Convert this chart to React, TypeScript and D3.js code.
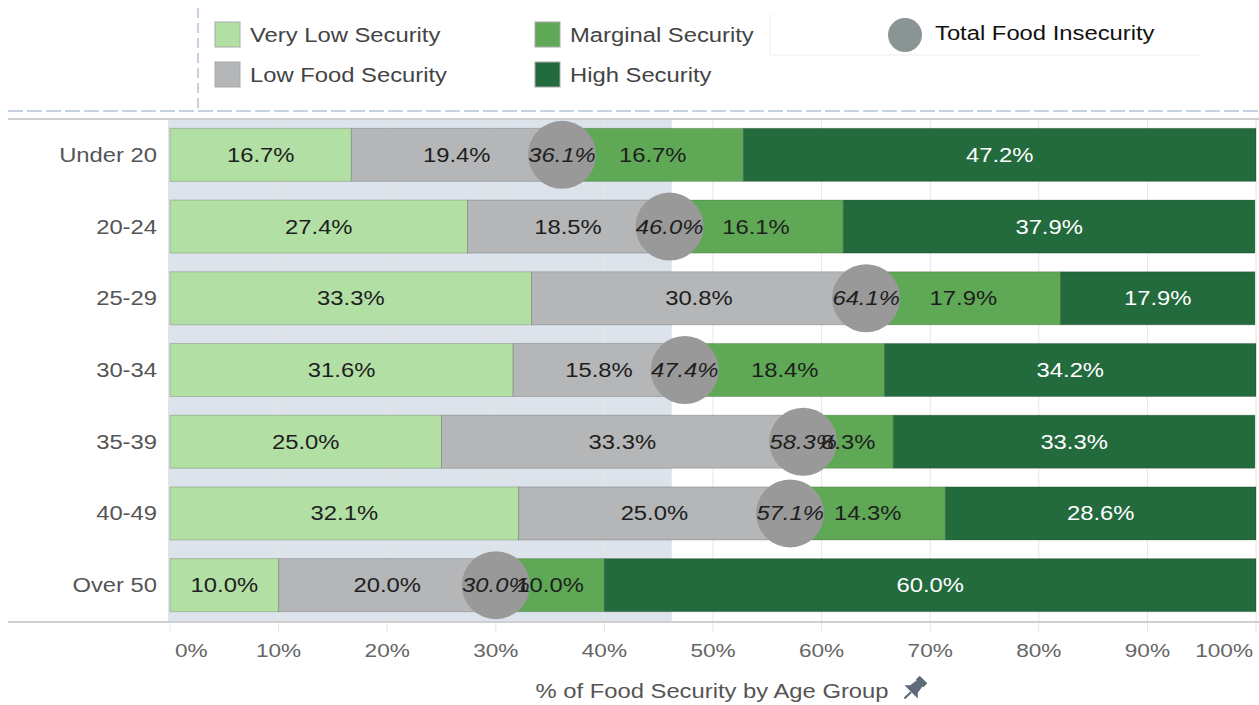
import React from "react";
import * as d3 from "d3";

const categories = ["Under 20", "20-24", "25-29", "30-34", "35-39", "40-49", "Over 50"];
const veryLow = [16.7, 27.4, 33.3, 31.6, 25.0, 32.1, 10.0];
const lowFood = [19.4, 18.5, 30.8, 15.8, 33.3, 25.0, 20.0];
const marginal = [16.7, 16.1, 17.9, 18.4, 8.3, 14.3, 10.0];
const high = [47.2, 37.9, 17.9, 34.2, 33.3, 28.6, 60.0];
const totalInsecurity = [36.1, 46.0, 64.1, 47.4, 58.3, 57.1, 30.0];
const seriesNames = ["Very Low Security", "Low Food Security", "Marginal Security", "High Security"];
const tickValues = [0, 10, 20, 30, 40, 50, 60, 70, 80, 90, 100];
const referenceBand = 46.2;

const COLORS = ["#b2dfa4", "#b4b6b7", "#5fa956", "#236a3d"];
const TEXT_COLORS = ["#1e1e1e", "#1e1e1e", "#1e1e1e", "#ffffff"];
const FONT = "'Liberation Sans', Arial, sans-serif";
const SX = 1.19;

type TProps = {
  x: number; y: number; anchor?: "start" | "middle" | "end"; size?: number; fill?: string;
  italic?: boolean; children: React.ReactNode; dy?: string;
};
function T({ x, y, anchor = "start", size = 20, fill = "#444", italic = false, children, dy }: TProps) {
  return (
    <text transform={`translate(${x},${y}) scale(${SX},1)`} textAnchor={anchor} fontSize={size} fill={fill}
      fontStyle={italic ? "italic" : "normal"} dy={dy}>{children}</text>
  );
}

export default function App() {
  const W = 1259, H = 705;
  const x = d3.scaleLinear().domain([0, 100]).range([170, 1256]);
  const y = d3.scaleBand<string>().domain(categories).range([119, 621]).paddingInner(0.26).paddingOuter(0.13);
  const series = [veryLow, lowFood, marginal, high];

  const rows = categories.map((c, i) => {
    let acc = 0;
    const segs = series.map((s, k) => {
      const x0 = acc;
      acc += s[i];
      return { k, x0, x1: acc, v: s[i] };
    });
    return { c, i, segs };
  });

  const bw = y.bandwidth();
  const cy = (c: string) => (y(c) ?? 0) + bw / 2;

  return (
    <svg width={W} height={H} style={{ position: "absolute", left: 0, top: 0, display: "block", background: "#fff" }} fontFamily={FONT}>
      {/* legend */}
      <line x1={198} x2={198} y1={8} y2={110} stroke="#c6d1e2" strokeWidth={2} strokeDasharray="10,5" />
      <line x1={8} x2={1259} y1={111} y2={111} stroke="#c6d1e2" strokeWidth={2} strokeDasharray="15,4" />
      <line x1={770} x2={770} y1={14} y2={55} stroke="#eeeeee" />
      <line x1={770} x2={1200} y1={55} y2={55} stroke="#eeeeee" />
      {seriesNames.map((name, k) => {
        const col = k === 0 || k === 1 ? 0 : 1;
        const row = k === 0 || k === 2 ? 0 : 1;
        const lx = col === 0 ? 215 : 535;
        const ly = row === 0 ? 22 : 62;
        return (
          <g key={name}>
            <rect x={lx} y={ly} width={25} height={25} fill={COLORS[k]} stroke="#a9a9a9" strokeWidth={1} />
            <T x={lx + 35} y={ly + 20} fill="#444">{name}</T>
          </g>
        );
      })}
      <circle cx={905} cy={35} r={17} fill="#8b9494" />
      <T x={935} y={40} fill="#111">Total Food Insecurity</T>

      {/* plot frame */}
      <rect x={168} y={119} width={x(referenceBand) - 168} height={502} fill="#dce3eb" />
      {tickValues.map((t) => (
        <line key={"g" + t} x1={x(t)} x2={x(t)} y1={119} y2={632} stroke="#e6e6e6" strokeWidth={1} />
      ))}
      <line x1={8} x2={1259} y1={119} y2={119} stroke="#d0d0d0" strokeWidth={2} />
      <line x1={8} x2={1259} y1={622} y2={622} stroke="#d0d0d0" strokeWidth={2} />

      {/* bars */}
      {rows.map((r) => (
        <g key={r.c}>
          <T x={157} y={cy(r.c)} dy="0.35em" anchor="end" fill="#555">{r.c}</T>
          {r.segs.map((s) => (
            <rect key={s.k} x={x(s.x0)} y={y(r.c)} width={Math.max(0, x(s.x1) - x(s.x0))} height={bw}
              fill={COLORS[s.k]} stroke="rgba(0,0,0,0.18)" strokeWidth={1} />
          ))}
        </g>
      ))}
      {/* circles */}
      {rows.map((r) => (
        <circle key={"c" + r.c} cx={x(totalInsecurity[r.i])} cy={cy(r.c)} r={34} fill="#999999" />
      ))}
      {/* segment labels */}
      {rows.map((r) => (
        <g key={"l" + r.c}>
          {r.segs.map((s) => (
            <T key={s.k} x={(x(s.x0) + x(s.x1)) / 2} y={cy(r.c)} dy="0.35em" anchor="middle"
              fill={TEXT_COLORS[s.k]}>{s.v.toFixed(1) + "%"}</T>
          ))}
          <T x={x(totalInsecurity[r.i])} y={cy(r.c)} dy="0.35em" anchor="middle" italic fill="#1e1e1e">
            {totalInsecurity[r.i].toFixed(1) + "%"}
          </T>
        </g>
      ))}

      {/* axis */}
      {tickValues.map((t, i) => {
        const anchor = i === 0 ? "start" : i === tickValues.length - 1 ? "end" : "middle";
        const tx = i === 0 ? x(t) + 5 : i === tickValues.length - 1 ? x(t) - 3 : x(t);
        return (
          <T key={"t" + t} x={tx} y={657} anchor={anchor} size={19} fill="#666">{t + "%"}</T>
        );
      })}
      <T x={712} y={698} anchor="middle" fill="#555">% of Food Security by Age Group</T>
      <g transform="translate(913,690) rotate(45) scale(1.35)" fill="#5f6b78">
        <rect x={-4} y={-11} width={8} height={4} />
        <path d="M-3,-8 L3,-8 L4,-1 L7,2 L-7,2 L-4,-1 Z" />
        <rect x={-0.8} y={2} width={1.6} height={7} />
      </g>
    </svg>
  );
}
